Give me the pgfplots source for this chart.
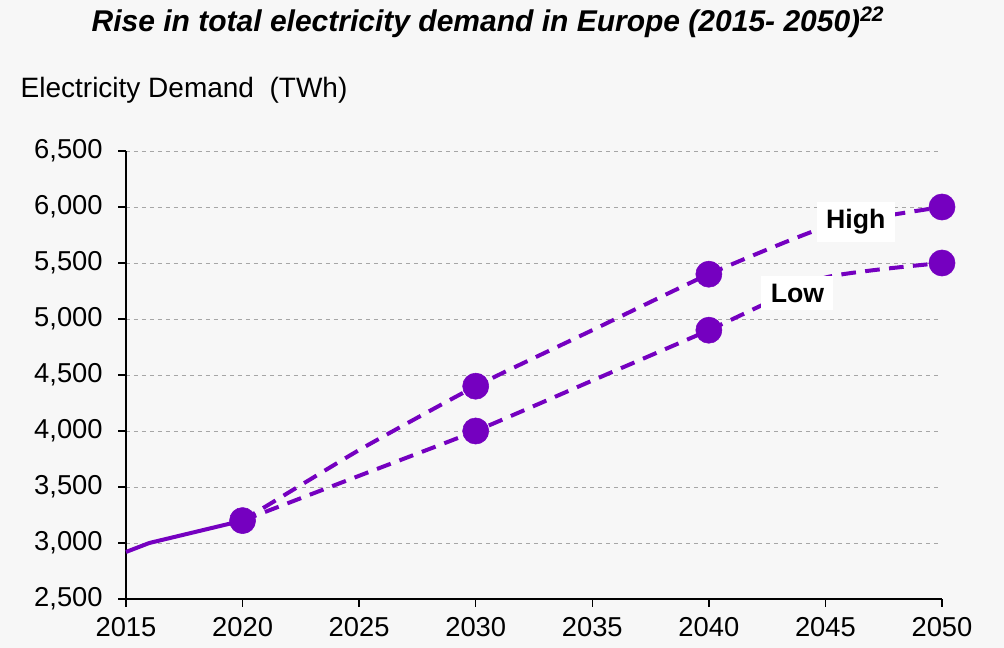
\documentclass[border=0pt]{standalone}
\usepackage{pgfplots}
\pgfplotsset{compat=1.18}
\usepackage{fontspec}
\setmainfont{Liberation Sans}
\definecolor{bg}{HTML}{F7F7F7}
\definecolor{pur}{HTML}{7500C0}
\begin{document}
\begin{tikzpicture}[x=0.75pt,y=0.75pt]
\fill[bg] (-126,-49) rectangle (878,599);
\begin{axis}[
  at={(0,0)}, anchor=south west,
  scale only axis, width=612pt, height=336pt,
  xmin=2015, xmax=2050, ymin=2500, ymax=6500,
  xtick={2015,2020,...,2050}, ytick={2500,3000,...,6500},
  axis x line*=bottom, axis y line*=left,
  axis line style={black, line width=1pt},
  tick style={black, line width=1pt},
  tick align=outside, major tick length=6pt,
  ymajorgrids, grid style={gray!70, dashed, line width=0.6pt},
  tick label style={font=\fontsize{20.5}{24}\selectfont},
  /pgf/number format/assume math mode=true,
  /pgf/number format/1000 sep={,},
  xticklabel={\pgfmathprintnumber[1000 sep={},fixed]{\tick}},
  yticklabel style={/pgf/number format/fixed, xshift=-8pt},
  xticklabel style={yshift=-4pt},
  clip=false,
]
\addplot[pur, line width=3pt] coordinates {(2015,2920) (2016,3000) (2018,3100) (2020,3200)};
\addplot[pur, line width=3pt, dash pattern=on 11pt off 7pt, smooth, tension=0.3] coordinates {(2020,3200) (2025,3830) (2030,4400) (2035,4900) (2040,5400) (2045,5820) (2050,6000)};
\addplot[pur, line width=3pt, dash pattern=on 11pt off 7pt, smooth, tension=0.3] coordinates {(2020,3200) (2025,3600) (2030,4000) (2035,4450) (2040,4900) (2045,5370) (2050,5500)};
\addplot[only marks, mark=*, mark size=9.8pt, mark options={fill=pur, draw=pur}] coordinates {(2020,3200) (2030,4400) (2040,5400) (2050,6000) (2030,4000) (2040,4900) (2050,5500)};
\node[fill=white, font=\bfseries\fontsize{20}{24}\selectfont, inner xsep=7pt, inner ysep=6pt] at (axis cs:2046.3,5866) {High};
\node[fill=white, font=\bfseries\fontsize{20}{24}\selectfont, inner xsep=7pt, inner ysep=6pt] at (axis cs:2043.8,5232) {Low};
\end{axis}
\node[font=\bfseries\itshape\fontsize{22.5}{26}\selectfont] at (362,577) {Rise in total electricity demand in Europe (2015- 2050)\textsuperscript{22}};
\node[anchor=west, font=\fontsize{21}{24}\selectfont] at (-110,509) {Electricity Demand\ \ (TWh)};
\end{tikzpicture}
\end{document}
